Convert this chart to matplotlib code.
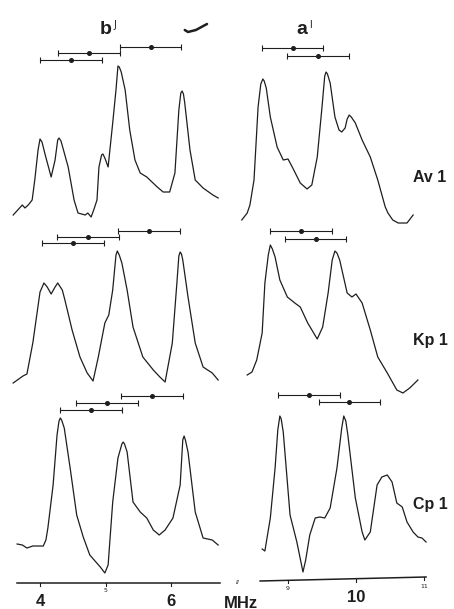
import matplotlib
matplotlib.use("Agg")
import matplotlib.pyplot as plt

# traces: frequency in MHz, signal in arbitrary units above each row's baseline
av1_b_mhz = [3.59, 3.73, 3.77, 3.82, 3.88, 3.92, 3.97, 4.00, 4.03, 4.08, 4.17, 4.23, 4.27, 4.29,
             4.32, 4.35, 4.43, 4.52, 4.58, 4.69, 4.73, 4.78, 4.82, 4.87, 4.90, 4.94, 4.96, 4.99,
             5.04, 5.11, 5.16, 5.19, 5.21, 5.24, 5.30, 5.37, 5.45, 5.53, 5.63, 5.71, 5.79, 5.88,
             5.98, 6.06, 6.12, 6.15, 6.17, 6.19, 6.21, 6.29, 6.37, 6.49, 6.64, 6.72]
av1_b_sig = [-0.15, -0.05, -0.08, -0.05, 0.00, 0.20, 0.50, 0.61, 0.58, 0.45, 0.23, 0.40, 0.60, 0.62,
             0.59, 0.52, 0.33, 0.00, -0.13, -0.15, -0.13, -0.17, -0.10, 0.00, 0.33, 0.45, 0.46, 0.42,
             0.33, 0.77, 1.10, 1.34, 1.33, 1.28, 1.10, 0.70, 0.40, 0.27, 0.23, 0.18, 0.13, 0.08,
             0.08, 0.27, 0.90, 1.07, 1.09, 1.06, 0.97, 0.50, 0.20, 0.12, 0.05, 0.02]

av1_a_mhz = [8.32, 8.40, 8.44, 8.50, 8.56, 8.60, 8.63, 8.65, 8.68, 8.74, 8.84, 8.93, 9.00, 9.07,
             9.18, 9.28, 9.35, 9.43, 9.50, 9.54, 9.56, 9.58, 9.62, 9.69, 9.75, 9.79, 9.84, 9.87,
             9.90, 9.93, 9.99, 10.09, 10.21, 10.32, 10.43, 10.47, 10.54, 10.62, 10.75, 10.84]
av1_a_sig = [-0.20, -0.13, -0.05, 0.20, 0.93, 1.16, 1.21, 1.19, 1.12, 0.83, 0.53, 0.40, 0.41, 0.32,
             0.17, 0.11, 0.15, 0.43, 0.93, 1.24, 1.28, 1.26, 1.17, 0.83, 0.70, 0.68, 0.72, 0.81,
             0.85, 0.83, 0.77, 0.60, 0.43, 0.20, -0.07, -0.13, -0.20, -0.23, -0.23, -0.15]

kp1_b_mhz = [3.59, 3.74, 3.80, 3.89, 4.00, 4.06, 4.11, 4.17, 4.23, 4.27, 4.34, 4.38, 4.49, 4.61,
             4.72, 4.81, 4.89, 4.99, 5.05, 5.11, 5.16, 5.18, 5.21, 5.25, 5.33, 5.42, 5.57, 5.73,
             5.83, 5.91, 6.02, 6.09, 6.12, 6.14, 6.16, 6.18, 6.26, 6.37, 6.49, 6.63, 6.72]
kp1_b_sig = [0.00, 0.07, 0.09, 0.40, 0.91, 1.00, 0.96, 0.89, 0.96, 1.00, 0.93, 0.83, 0.53, 0.26,
             0.10, 0.02, 0.26, 0.60, 0.68, 0.93, 1.28, 1.32, 1.28, 1.20, 0.93, 0.56, 0.26, 0.13,
             0.06, 0.01, 0.40, 1.00, 1.27, 1.31, 1.29, 1.23, 0.86, 0.40, 0.16, 0.10, 0.03]

kp1_a_mhz = [8.40, 8.47, 8.54, 8.62, 8.66, 8.71, 8.74, 8.77, 8.81, 8.88, 8.99, 9.10, 9.18, 9.29,
             9.43, 9.51, 9.59, 9.65, 9.69, 9.72, 9.76, 9.87, 9.94, 10.00, 10.09, 10.21, 10.32,
             10.46, 10.60, 10.69, 10.79, 10.91]
kp1_a_sig = [0.08, 0.11, 0.23, 0.50, 1.00, 1.28, 1.38, 1.34, 1.26, 1.03, 0.86, 0.80, 0.76, 0.60,
             0.44, 0.56, 0.90, 1.23, 1.32, 1.30, 1.23, 0.90, 0.86, 0.89, 0.80, 0.53, 0.26,
             0.10, -0.07, -0.10, -0.05, 0.03]

cp1_b_mhz = [3.65, 3.73, 3.80, 3.89, 4.05, 4.09, 4.12, 4.20, 4.26, 4.29, 4.31, 4.33, 4.37, 4.46,
             4.56, 4.66, 4.76, 4.92, 4.99, 5.04, 5.11, 5.19, 5.25, 5.27, 5.29, 5.33, 5.42, 5.53,
             5.63, 5.73, 5.82, 5.91, 6.03, 6.14, 6.18, 6.20, 6.22, 6.26, 6.37, 6.49, 6.63, 6.72]
cp1_b_sig = [0.02, 0.01, -0.02, 0.00, 0.00, 0.06, 0.18, 0.61, 1.11, 1.25, 1.28, 1.26, 1.18, 0.78,
             0.31, 0.09, -0.09, -0.21, -0.27, -0.19, 0.44, 0.88, 1.02, 1.04, 1.02, 0.94, 0.44, 0.34,
             0.28, 0.16, 0.11, 0.16, 0.28, 0.61, 1.06, 1.10, 1.06, 0.94, 0.34, 0.08, 0.06, 0.01]

cp1_a_mhz = [8.62, 8.66, 8.74, 8.81, 8.85, 8.88, 8.90, 8.93, 9.03, 9.13, 9.22, 9.26, 9.32, 9.40,
             9.47, 9.54, 9.62, 9.72, 9.79, 9.82, 9.85, 9.88, 9.99, 10.09, 10.13, 10.21, 10.31,
             10.38, 10.46, 10.53, 10.60, 10.68, 10.75, 10.84, 10.91, 10.97, 11.03]
cp1_a_sig = [-0.03, -0.05, 0.28, 0.78, 1.16, 1.30, 1.27, 1.14, 0.31, 0.04, -0.26, -0.14, 0.11, 0.28,
             0.29, 0.28, 0.38, 0.78, 1.18, 1.30, 1.25, 1.11, 0.48, 0.14, 0.06, 0.14, 0.61,
             0.69, 0.71, 0.64, 0.43, 0.39, 0.24, 0.14, 0.09, 0.08, 0.04]

# assigned line positions (MHz) with their bar level above the baseline
av1_b_centres = [5.69, 4.75, 4.47]
av1_b_levels = [1.53, 1.47, 1.40]
av1_a_centres = [9.07, 9.44]
av1_a_levels = [1.52, 1.44]
kp1_b_centres = [5.66, 4.73, 4.50]
kp1_b_levels = [1.52, 1.46, 1.40]
kp1_a_centres = [9.19, 9.41]
kp1_a_levels = [1.52, 1.44]
cp1_b_centres = [5.71, 5.02, 4.78]
cp1_b_levels = [1.50, 1.43, 1.36]
cp1_a_centres = [9.31, 9.90]
cp1_a_levels = [1.51, 1.44]
halfwidth_b = 0.47
halfwidth_a = 0.45

names = ["Av 1", "Kp 1", "Cp 1"]
offsets = [4.09, 2.26, 0.63]

ink = "#1e1e1e"
W, H = 454, 609
fig = plt.figure(figsize=(W / 100, H / 100), dpi=100)
fig.patch.set_facecolor("white")

axb = fig.add_axes([0, 0, 230 / W, 1])
axa = fig.add_axes([230 / W, 0, 224 / W, 1])
axb.set_xlim(3.389, 6.901)
axa.set_xlim(8.147, 11.441)
for ax in (axb, axa):
    ax.set_ylim(0, 6.09)
    ax.axis("off")

left = [(av1_b_mhz, av1_b_sig, av1_b_centres, av1_b_levels),
        (kp1_b_mhz, kp1_b_sig, kp1_b_centres, kp1_b_levels),
        (cp1_b_mhz, cp1_b_sig, cp1_b_centres, cp1_b_levels)]
right = [(av1_a_mhz, av1_a_sig, av1_a_centres, av1_a_levels),
         (kp1_a_mhz, kp1_a_sig, kp1_a_centres, kp1_a_levels),
         (cp1_a_mhz, cp1_a_sig, cp1_a_centres, cp1_a_levels)]

for ax, rows, hw in ((axb, left, halfwidth_b), (axa, right, halfwidth_a)):
    for (f, s, cen, lev), off in zip(rows, offsets):
        ax.plot(f, [v + off for v in s], color=ink, lw=0.9, solid_joinstyle="round")
        ax.errorbar(cen, [v + off for v in lev], xerr=hw, fmt="o", ms=2.6,
                    color=ink, lw=0.8, capsize=2.2, capthick=0.8)

# frequency axes at the bottom
axb.plot([3.65, 6.75], [0.26, 0.26], color=ink, lw=1.1)
for t in [4, 5, 6]:
    axb.plot([t, t], [0.26, 0.23], color=ink, lw=0.8)
axa.plot([8.59, 11.03], [0.28, 0.32], color=ink, lw=1.1)
for t in [9, 10, 11]:
    y0 = 0.28 + (t - 8.59) / (11.03 - 8.59) * 0.04
    axa.plot([t, t], [y0, y0 - 0.03], color=ink, lw=0.8)

axb.text(5, 0.19, "5", fontsize=4.5, ha="center", va="center", color=ink)
axa.text(9, 0.21, "9", fontsize=4.5, ha="center", va="center", color=ink)
axa.text(11, 0.23, "11", fontsize=4.5, ha="center", va="center", color=ink)
big = dict(fontsize=12, fontweight="bold", ha="center", va="center", color=ink,
           family="Liberation Sans")
axb.text(4, 0.08, "4", **big)
axb.text(6, 0.08, "6", **big)
axa.text(10, 0.12, "10", **big)
fig.text(241 / W, 1 - 603 / H, "MHz", **big)
fig.text(238 / W, 1 - 582 / H, "ıı", fontsize=5, style="italic", ha="center",
         va="center", color=ink)

# row labels
for name, yc in zip(names, [178, 340, 505]):
    fig.text(413 / W, 1 - yc / H, name, fontsize=11.5, fontweight="bold",
             ha="left", va="center", color=ink, family="Liberation Sans")

# panel letters
fig.text(106 / W, 1 - 29 / H, "b", fontsize=14, fontweight="bold", ha="center",
         va="center", color=ink, family="Liberation Sans")
fig.text(115 / W, 1 - 25 / H, "J", fontsize=7, ha="center", va="center", color=ink)
fig.text(302 / W, 1 - 30 / H, "a", fontsize=14, fontweight="bold", ha="center",
         va="center", color=ink, family="Liberation Sans")
fig.text(311 / W, 1 - 25 / H, "l", fontsize=7, ha="center", va="center", color=ink)

# stray pen stroke near the top
axb.plot([6.21, 6.26, 6.38, 6.55], [5.79, 5.77, 5.79, 5.85], color=ink, lw=1.8,
         solid_capstyle="round")

fig.savefig("out.png", dpi=100)
